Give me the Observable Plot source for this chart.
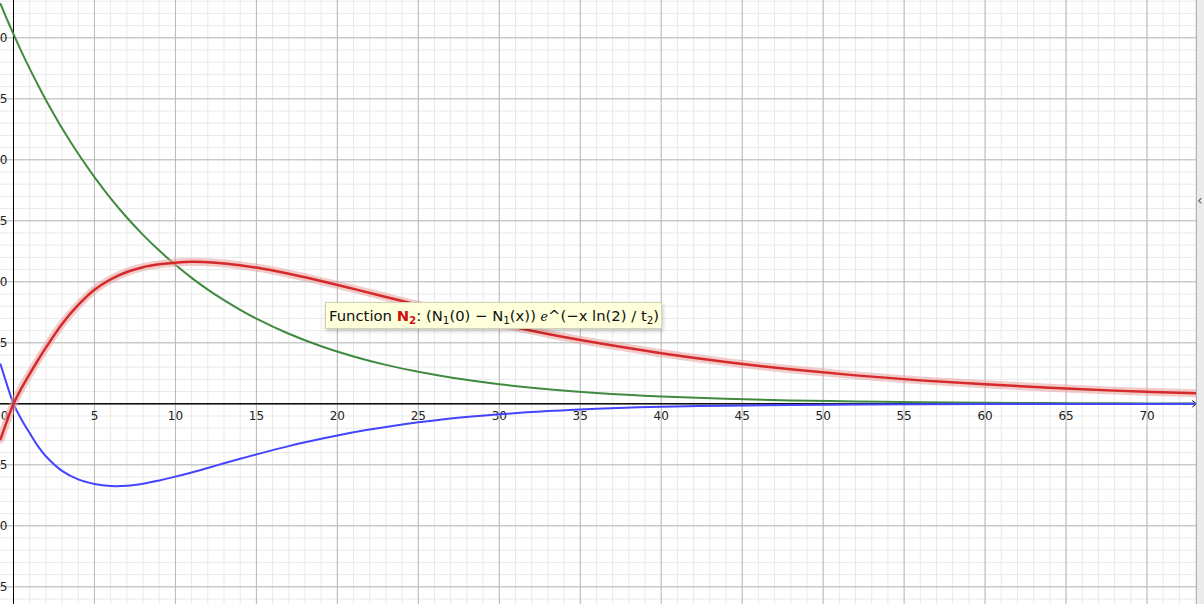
<!DOCTYPE html>
<html>
<head>
<meta charset="utf-8">
<script src="https://cdn.jsdelivr.net/npm/d3@7"></script>
<script src="https://cdn.jsdelivr.net/npm/@observablehq/plot@0.6"></script>
<style>
  html, body { margin: 0; padding: 0; background: #fff; overflow: hidden; }
  #wrap { position: relative; width: 1204px; height: 604px; }
  #chart svg { display: block; }
  #strip { position: absolute; left: 1196px; top: 0; width: 8px; height: 604px; background: #ebebeb; border-left: 1px solid #b3b3b3; box-sizing: border-box; }
  #chev { position: absolute; left: 1197px; top: 192px; font: 14px "DejaVu Sans", sans-serif; color: #555; }
  #tip { position: absolute; left: 325px; top: 302px; width: 337px; height: 27px; box-sizing: border-box;
         background: #ffffdc; border: 1px solid #d2d2b4; box-shadow: 1px 2px 4px rgba(0,0,0,0.22);
         font: 14.8px "DejaVu Sans", sans-serif; color: #111; white-space: nowrap; padding: 4px 0 0 3px; }
  #tip sub { font-size: 0.7em; vertical-align: -0.3em; line-height: 0; }
  #tip .n { color: #d01010; font-weight: bold; }
  #tip .e { font-family: "DejaVu Serif", serif; font-style: italic; font-size: 0.85em; }
</style>
</head>
<body>
<div id="wrap">
  <div id="chart"></div>
  <div id="strip"></div>
  <div id="chev">‹</div>
  <div id="tip">Function <span class="n">N<sub>2</sub></span>: (N<sub>1</sub>(0) − N<sub>1</sub>(x)) <span class="e">e</span>^(−x ln(2) / t<sub>2</sub>)</div>
</div>
<script>
const xValues = [-0.8, -0.4, 0, 0.5, 1, 1.5, 2, 3, 4, 5, 6, 7, 8, 9, 10, 11, 12, 13, 14, 15, 17, 19, 21, 23, 25, 27, 30, 33, 36, 40, 44, 48, 52, 56, 60, 64, 68, 73.5];
// green curve N1
const n1Values = [32.77, 31.51, 30.3, 28.85, 27.47, 26.16, 24.91, 22.59, 20.49, 18.58, 16.84, 15.27, 13.85, 12.56, 11.39, 10.32, 9.36, 8.49, 7.70, 6.98, 5.74, 4.72, 3.88, 3.19, 2.62, 2.16, 1.61, 1.20, 0.89, 0.60, 0.41, 0.28, 0.19, 0.13, 0.085, 0.057, 0.038, 0.022];
// red curve N2
const n2Values = [-2.9, -1.4, 0, 1.3, 2.45, 3.55, 4.6, 6.55, 8.1, 9.35, 10.2, 10.8, 11.2, 11.43, 11.57, 11.64, 11.6, 11.5, 11.35, 11.17, 10.66, 10.06, 9.42, 8.76, 8.1, 7.46, 6.55, 5.72, 5.0, 4.15, 3.43, 2.83, 2.33, 1.92, 1.6, 1.32, 1.08, 0.84];
// blue curve
const blueValues = [3.23, 1.55, 0, -1.3, -2.4, -3.45, -4.3, -5.5, -6.2, -6.57, -6.74, -6.72, -6.55, -6.28, -5.97, -5.63, -5.26, -4.88, -4.51, -4.15, -3.47, -2.87, -2.33, -1.9, -1.52, -1.2, -0.86, -0.6, -0.4, -0.24, -0.15, -0.09, -0.06, -0.04, -0.025, -0.015, -0.01, -0.005];

// tick labels
const xTickLabels = [5, 10, 15, 20, 25, 30, 35, 40, 45, 50, 55, 60, 65, 70];
const yTickLabels = [-15, -10, -5, 5, 10, 15, 20, 25, 30];

const xDomain = [-13 / 16.2, 1183.5 / 16.2];
const yDomain = [-(604 - 403.3) / 12.2, 403.3 / 12.2];

const xMinor = d3.range(0, 74, 1);
const yMinor = d3.range(-16, 34, 1);
const xMajor = d3.range(0, 75, 5);
const yMajor = d3.range(-15, 35, 5);

const rows = xValues.map((x, i) => ({x, n1: n1Values[i], n2: n2Values[i], b: blueValues[i]}));

const fmt = v => (v < 0 ? "\u2212" + Math.abs(v) : String(v));

const plot = Plot.plot({
  width: 1196,
  height: 604,
  margin: 0,
  x: {domain: xDomain, axis: null},
  y: {domain: yDomain, axis: null},
  style: {background: "#ffffff"},
  marks: [
    Plot.ruleX(xMinor, {stroke: "#e9e9e9", strokeWidth: 1}),
    Plot.ruleY(yMinor, {stroke: "#e9e9e9", strokeWidth: 1}),
    Plot.ruleX(xMajor, {stroke: "#b9b9b9", strokeWidth: 1}),
    Plot.ruleY(yMajor, {stroke: "#b9b9b9", strokeWidth: 1}),
    Plot.ruleX([0], {stroke: "#000", strokeWidth: 1}),
    Plot.ruleY([0], {stroke: "#000", strokeWidth: 1}),
    Plot.arrow([0], {x1: xDomain[0], x2: xDomain[1] - 0.02, y1: 0, y2: 0, stroke: "#000", strokeWidth: 1, headLength: 7, headAngle: 80}),
    Plot.text(xTickLabels, {x: d => d, y: 0, text: d => fmt(d), dy: 12, fontSize: 12, fontFamily: "DejaVu Sans", fill: "#222"}),
    Plot.text([0], {x: 0, y: 0, text: d => fmt(d), dx: -9, dy: 12, fontSize: 12, fontFamily: "DejaVu Sans", fill: "#222"}),
    Plot.text(yTickLabels, {x: 0, y: d => d, text: d => fmt(d), dx: -6, textAnchor: "end", fontSize: 12, fontFamily: "DejaVu Sans", fill: "#222"}),
    Plot.line(rows, {x: "x", y: "n1", stroke: "#3f8a3f", strokeWidth: 2, curve: "catmull-rom", clip: true}),
    Plot.line(rows, {x: "x", y: "b", stroke: "#4444ff", strokeWidth: 2, curve: "catmull-rom", clip: true}),
    Plot.line(rows, {x: "x", y: "n2", stroke: "#e8a0a0", strokeOpacity: 0.55, strokeWidth: 8, curve: "catmull-rom", clip: true}),
    Plot.line(rows, {x: "x", y: "n2", stroke: "#d62a2a", strokeWidth: 2.5, curve: "catmull-rom", clip: true})
  ]
});
document.getElementById("chart").appendChild(plot);
</script>
</body>
</html>
